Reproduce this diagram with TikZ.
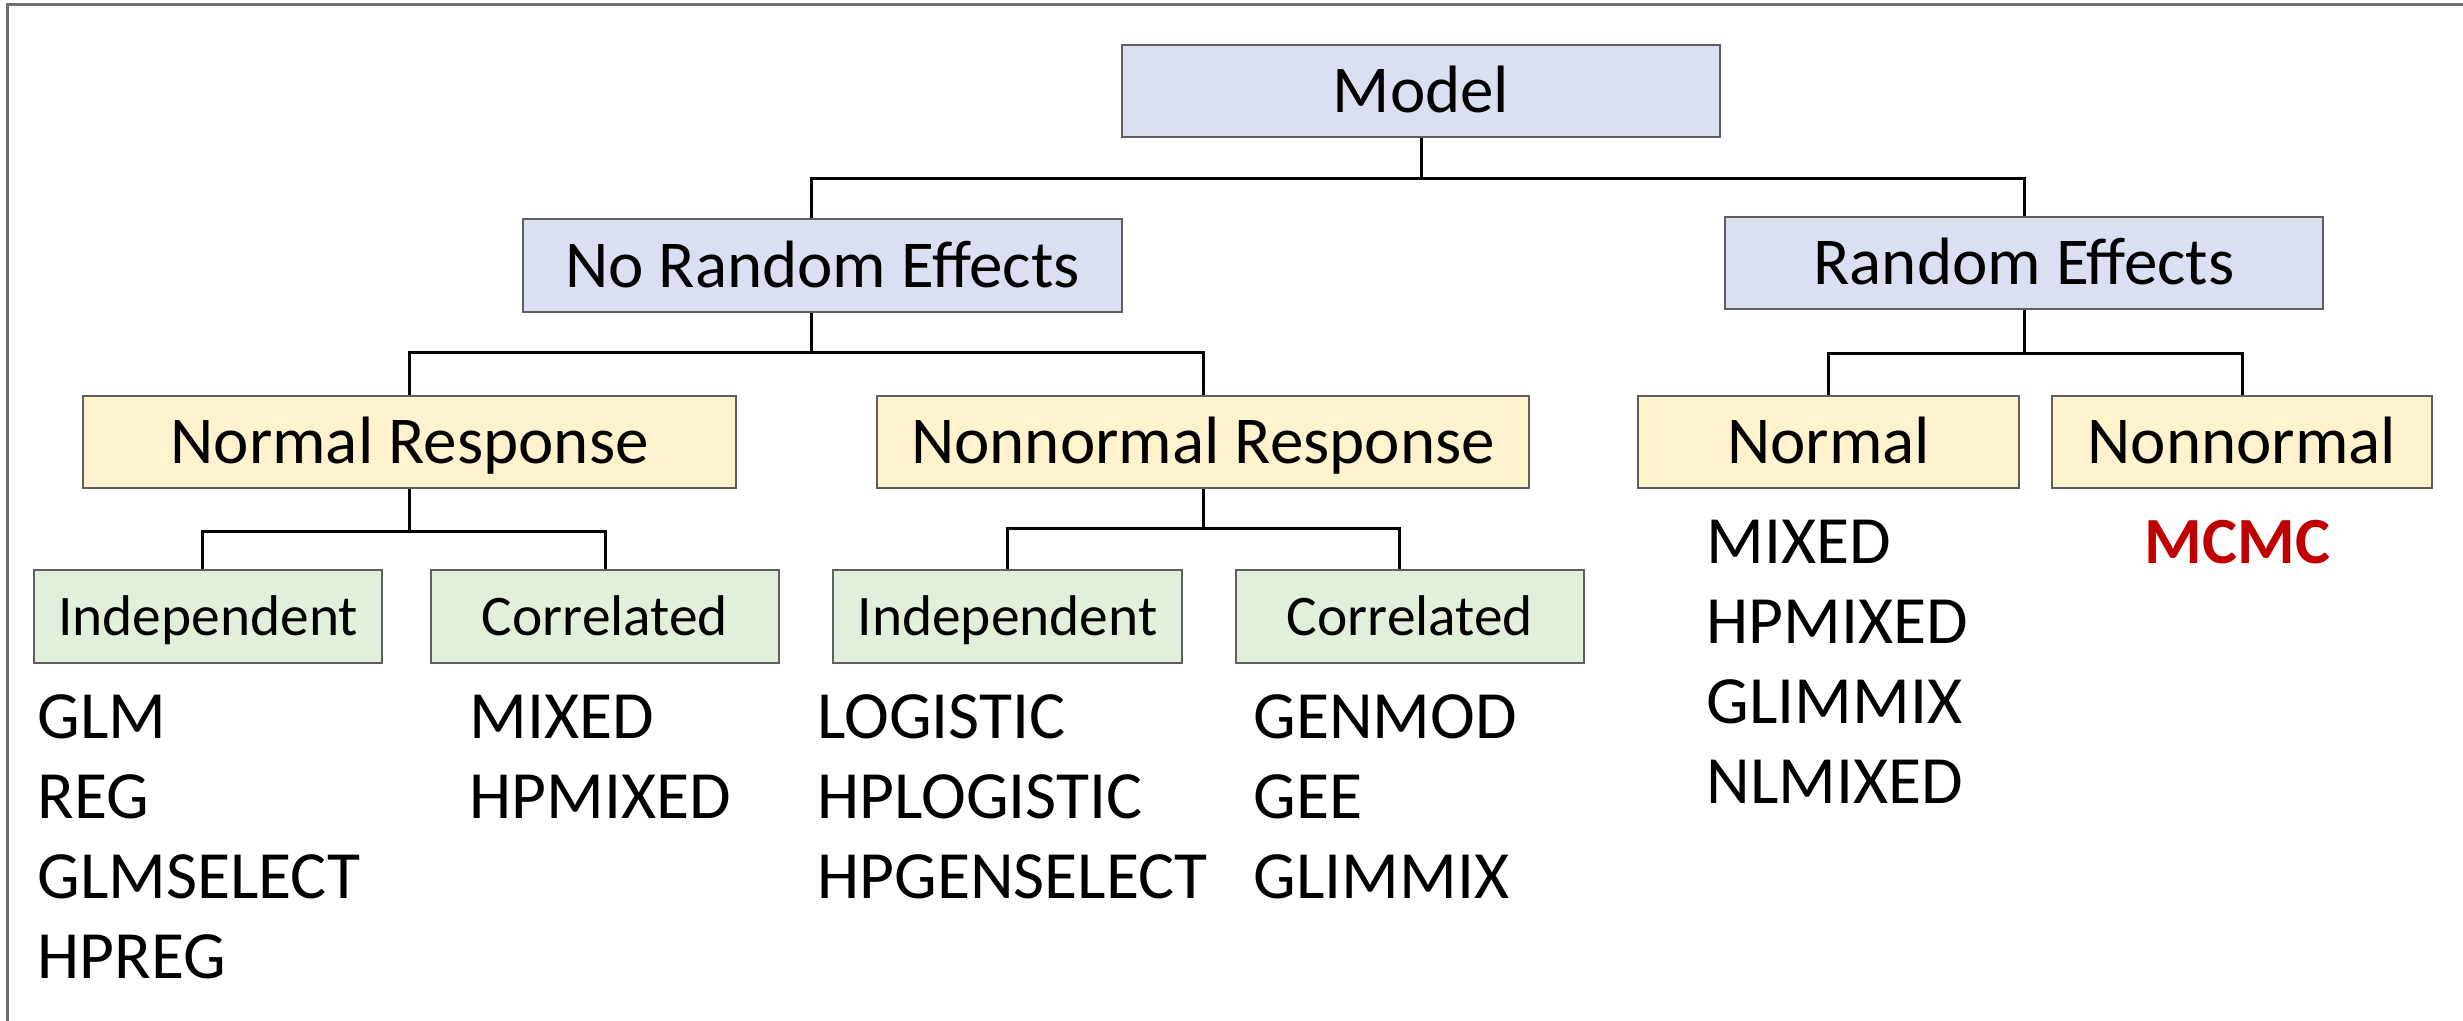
\documentclass[tikz,border=0pt]{standalone}
\usepackage{fontspec}
\setmainfont{Carlito}
\definecolor{bluefill}{HTML}{DAE0F2}
\definecolor{yellowfill}{HTML}{FFF2CC}
\definecolor{greenfill}{HTML}{E2EFDA}
\definecolor{boxline}{HTML}{5F5F5F}
\definecolor{framegray}{HTML}{707070}
\definecolor{mcmcred}{HTML}{C00000}
\tikzset{
  box/.style={draw=boxline, line width=1pt, inner sep=0pt, minimum height=46pt,
    text height=21.6pt, text depth=0pt, font=\fontsize{33.5}{40}\selectfont},
  bluebox/.style={box, fill=bluefill},
  yellowbox/.style={box, fill=yellowfill},
  greenbox/.style={box, fill=greenfill, minimum height=46.5pt, text height=18.5pt,
    font=\fontsize{28.7}{34}\selectfont},
  conn/.style={line width=1.5pt, black},
  lst/.style={anchor=base west, inner sep=0pt, font=\fontsize{33.8}{40}\selectfont},
}
\begin{document}
\begin{tikzpicture}[x=0.5pt, y=-0.5pt]
\useasboundingbox (0,0) rectangle (2463,1021);
\draw[framegray, line width=1.5pt] (7,1021) -- (7,5) -- (2463,5);

\node[bluebox, minimum width=299pt] (model) at (1421,91) {Model};
\node[bluebox, minimum width=299.5pt, minimum height=46.5pt] (nre) at (822.5,265.5) {No Random Effects};
\node[bluebox, minimum width=299pt] (re) at (2024,263) {Random Effects};

\node[yellowbox, minimum width=326.5pt] (nr) at (409.5,442) {Normal Response};
\node[yellowbox, minimum width=326pt] (nnr) at (1203,442) {Nonnormal Response};
\node[yellowbox, minimum width=190.5pt] (nor) at (1828.5,442) {Normal};
\node[yellowbox, minimum width=190pt] (nnor) at (2242,442) {Nonnormal};

\node[greenbox, minimum width=174pt] (ind1) at (208,616.5) {Independent};
\node[greenbox, minimum width=174pt] (cor1) at (605,616.5) {Correlated};
\node[greenbox, minimum width=174.5pt] (ind2) at (1007.5,616.5) {Independent};
\node[greenbox, minimum width=174pt] (cor2) at (1410,616.5) {Correlated};

% connectors
\draw[conn] (model.south) -- ++(0,41) coordinate (b1);
\draw[conn] ([xshift=-5.5pt]nre.north) |- (b1) -| (re.north);
\draw[conn] ([xshift=-5.5pt]nre.south) -- ++(0,40) coordinate (b2);
\draw[conn] (nr.north) |- (b2) -| (nnr.north);
\draw[conn] (re.south) -- ++(0,44) coordinate (b3);
\draw[conn] (nor.north) |- (b3) -| (nnor.north);
\draw[conn] (nr.south) -- ++(0,42) coordinate (b4);
\draw[conn] ([xshift=-3pt]ind1.north) |- (b4) -| (cor1.north);
\draw[conn] (nnr.south) -- ++(0,39) coordinate (b5);
\draw[conn] (ind2.north) |- (b5) -| ([xshift=-5.5pt]cor2.north);

% lists
\foreach \t [count=\i] in {GLM,REG,GLMSELECT,HPREG}
  \node[lst] (la\i) at (37,{658+80*\i}) {\t};
\foreach \t [count=\i] in {MIXED,HPMIXED}
  \node[lst] (lb\i) at (469,{658+80*\i}) {\t};
\foreach \t [count=\i] in {LOGISTIC,HPLOGISTIC,HPGENSELECT}
  \node[lst] (lc\i) at (817,{658+80*\i}) {\t};
\foreach \t [count=\i] in {GENMOD,GEE,GLIMMIX}
  \node[lst] (ld\i) at (1253,{658+80*\i}) {\t};
\foreach \t [count=\i] in {MIXED,HPMIXED,GLIMMIX,NLMIXED}
  \node[lst] (le\i) at (1706,{483+80*\i}) {\t};
\node[anchor=base, inner sep=0pt, text=mcmcred, font=\fontsize{33}{40}\selectfont\bfseries] (mcmc) at (2237.5,563) {MCMC};
\end{tikzpicture}
\end{document}
